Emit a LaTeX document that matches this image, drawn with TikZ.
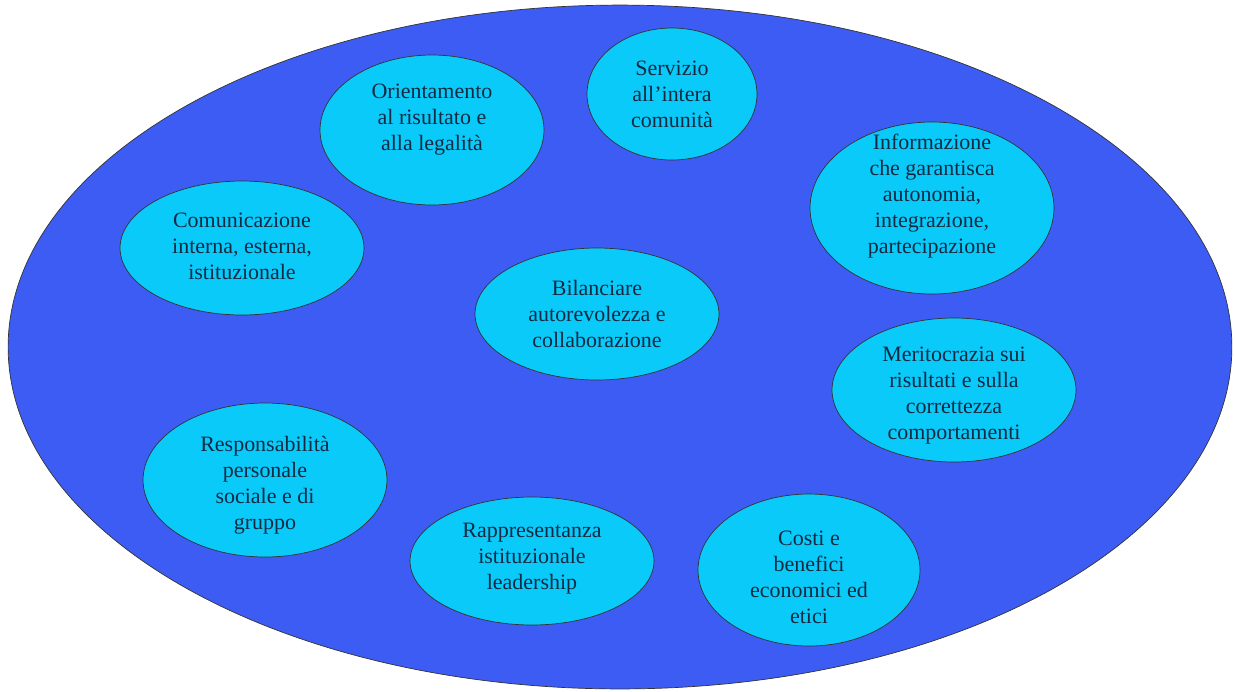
\documentclass[tikz,border=0pt]{standalone}
\usepackage{fontspec}
\setmainfont{Liberation Serif}
\usepackage{tikz}
\usetikzlibrary{positioning, shapes.geometric}
\definecolor{fieldblue}{RGB}{60,92,243}
\definecolor{bubcyan}{RGB}{10,202,250}
\definecolor{inkdark}{RGB}{18,42,66}

\begin{document}
\begin{tikzpicture}[x=0.02cm, y=-0.02cm,
          field/.style={ellipse, draw=black!80, thin, fill=fieldblue,
            minimum width=24.48cm, minimum height=13.68cm},
          bub/.style 2 args={ellipse, draw=black!80, thin, fill=bubcyan,
            minimum width=#1, minimum height=#2, inner sep=0pt},
          txt/.style={align=center, text=inkdark, inner sep=0pt,
            font=\fontsize{12.5}{14.8}\selectfont}]
        \useasboundingbox (0,0) rectangle (1235,691);
        \node[field] (field) at (620,347) {};
        % the nine bubbles
        \node[bub={4.48cm}{3.0cm}] (orient) at (432,130)
          [label={[txt, yshift=0.2cm]center:Orientamento\\al risultato e\\alla legalità}] {};
        \node[bub={3.4cm}{2.64cm}] (serv) at (672,94)
          [label={[txt]center:Servizio\\all’intera\\comunità}] {};
        \node[bub={4.88cm}{3.44cm}] (info) at (932,208)
          [label={[txt, yshift=0.24cm]center:Informazione\\che garantisca\\autonomia,\\integrazione,\\partecipazione}] {};
        \node[bub={4.88cm}{2.68cm}] (comun) at (242,248)
          [label={[txt, yshift=0.04cm]center:Comunicazione\\interna, esterna,\\istituzionale}] {};
        \node[bub={4.88cm}{2.64cm}] (bilan) at (597,314)
          [label={[txt]center:Bilanciare\\autorevolezza e\\collaborazione}] {};
        \node[bub={4.88cm}{2.88cm}] (merit) at (954,390)
          [label={[txt, yshift=-0.12cm]center:Meritocrazia sui\\risultati e sulla\\correttezza\\comportamenti}] {};
        \node[bub={4.88cm}{3.08cm}] (resp) at (265,480)
          [label={[txt, yshift=-0.1cm]center:Responsabilità\\personale\\sociale e di\\gruppo}] {};
        \node[bub={4.88cm}{2.56cm}] (rappr) at (532,561)
          [label={[txt, yshift=0.04cm]center:Rappresentanza\\istituzionale\\leadership}] {};
        \node[bub={4.44cm}{3.04cm}] (costi) at (809,570)
          [label={[txt, yshift=-0.14cm]center:Costi e\\benefici\\economici ed\\etici}] {};
      \end{tikzpicture}
\end{document}
